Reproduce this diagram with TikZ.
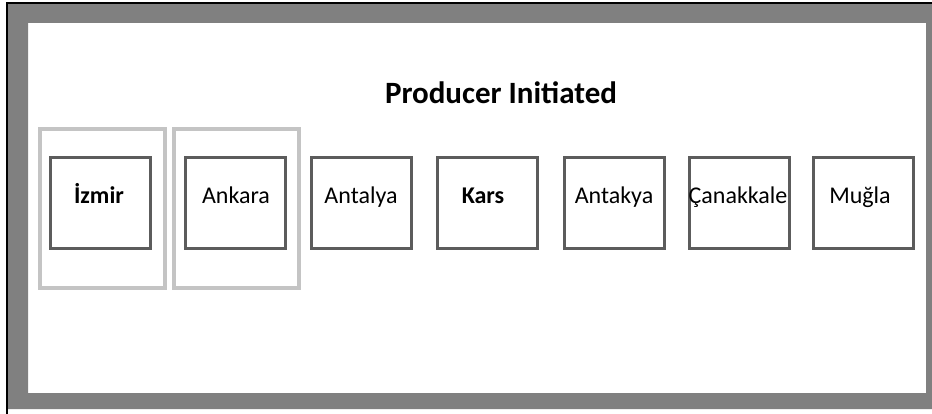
\documentclass[tikz,border=0pt]{standalone}
\usepackage{fontspec}
\setmainfont{Carlito}
\definecolor{framegray}{HTML}{808080}
\definecolor{groupgray}{HTML}{C4C4C4}
\definecolor{boxgray}{HTML}{5C5C5C}
\begin{document}
\begin{tikzpicture}[x=1pt,y=-1pt,
  citybox/.style={draw=boxgray,line width=3pt,minimum width=100pt,minimum height=91pt,inner sep=0pt},
  groupbox/.style={draw=groupgray,line width=4pt,minimum width=125pt,minimum height=159pt,inner sep=0pt},
  citylabel/.style={anchor=base,font=\fontsize{24}{28}\selectfont,inner sep=0pt},
  boldlabel/.style={citylabel,font=\fontsize{24}{28}\selectfont\bfseries},
  titlelabel/.style={anchor=base,font=\fontsize{31}{35}\selectfont\bfseries,inner sep=0pt}]
\useasboundingbox (0,0) rectangle (932,414);
% page frame: grey band with a thin dark edge on the top and left
\fill[framegray,even odd rule] (8,4) rectangle (932,409) (28,23) rectangle (926,393);
\draw[black,line width=1.2pt] (7,414) -- (7,3) -- (932,3);

\node[titlelabel] (title) at (501,104) {Producer Initiated};

% highlighted group frames
\node[groupbox] (gIzmir) at (102.5,208.5) {};
\node[groupbox] (gAnkara) at (236,208.5) {};

% city boxes
\node[citybox] (bIzmir) at (100.5,203) {};
\node[citybox] (bAnkara) at (235,203) {};
\node[citybox] (bAntalya) at (361,203) {};
\node[citybox] (bKars) at (487,203) {};
\node[citybox] (bAntakya) at (614,203) {};
\node[citybox] (bCanakkale) at (739,203) {};
\node[citybox] (bMugla) at (863,203) {};

% city names
\node[boldlabel] (tIzmir) at (99,204) {İzmir};
\node[citylabel] (tAnkara) at (236,204) {Ankara};
\node[citylabel] (tAntalya) at (361,204) {Antalya};
\node[boldlabel] (tKars) at (483,204) {Kars};
\node[citylabel] (tAntakya) at (614,204) {Antakya};
\node[citylabel] (tCanakkale) at (738,204) {Çanakkale};
\node[citylabel] (tMugla) at (860,204) {Muğla};
\end{tikzpicture}
\end{document}
